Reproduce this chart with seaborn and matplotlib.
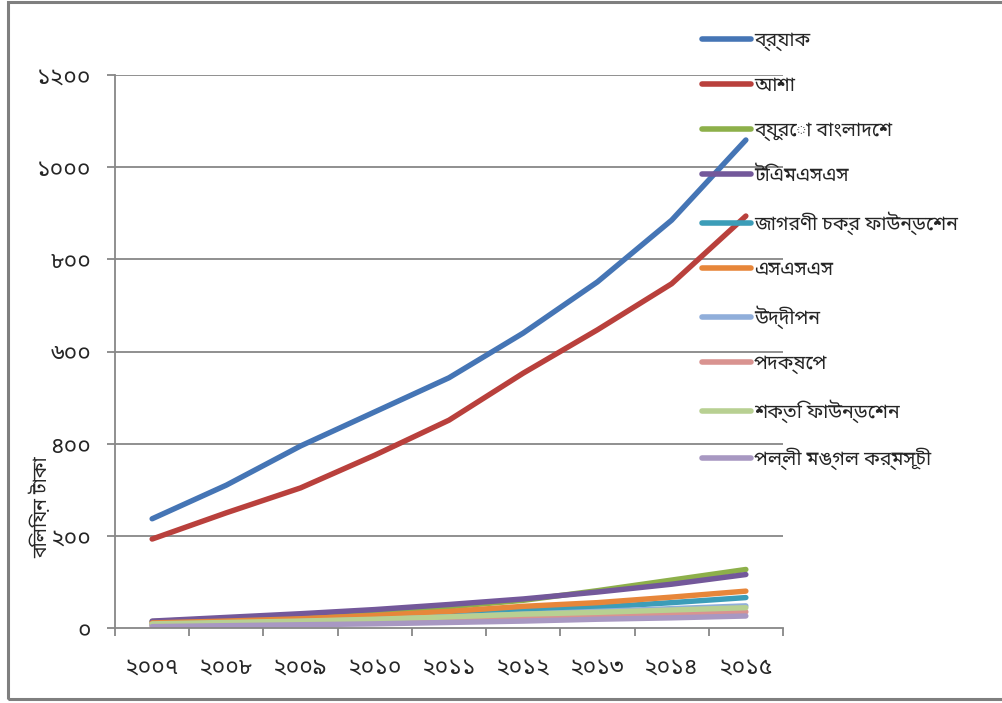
import matplotlib
matplotlib.use("Agg")
import seaborn as sns
import matplotlib.pyplot as plt
import pandas as pd
from matplotlib.patches import Rectangle

# data (billion taka)
years = [2007, 2008, 2009, 2010, 2011, 2012, 2013, 2014, 2015]
year_labels = ["২০০৭", "২০০৮", "২০০৯", "২০১০", "২০১১", "২০১২", "২০১৩", "২০১৪", "২০১৫"]
y_ticks = [0, 200, 400, 600, 800, 1000, 1200]
y_tick_labels = ["০", "২০০", "৪০০", "৬০০", "৮০০", "১০০০", "১২০০"]

names = ["ব্র্যাক", "আশা", "ব্যুরো বাংলাদেশ", "টিএমএসএস", "জাগরণী চক্র ফাউন্ডেশন",
         "এসএসএস", "উদ্দীপন", "পদক্ষেপ", "শক্তি ফাউন্ডেশন", "পল্লী মঙ্গল কর্মসূচী"]
brac = [237, 310, 395, 469, 543, 640, 751, 885, 1059]
asa = [193, 250, 304, 375, 451, 553, 647, 747, 894]
buro = [14, 21, 28, 36, 46, 60, 81, 104, 127]
tmss = [15, 23, 31, 40, 51, 63, 78, 95, 116]
jagorani = [8, 12, 16, 22, 30, 38, 45, 55, 66]
sss = [11, 15, 20, 27, 36, 47, 55, 67, 80]
uddipan = [7, 10, 14, 18, 24, 30, 36, 42, 48]
padakhep = [5, 8, 10, 13, 17, 21, 26, 30, 35]
shakti = [9, 12, 15, 19, 24, 30, 34, 39, 44]
palli = [3, 5, 7, 9, 12, 15, 19, 22, 26]
series = [brac, asa, buro, tmss, jagorani, sss, uddipan, padakhep, shakti, palli]

colors = ["#4575B5", "#B9403C", "#8DB04A", "#73589A", "#3C9DB8",
          "#E7863A", "#90AEDA", "#D99390", "#B8D092", "#A898C2"]

rows = []
for name, vals in zip(names, series):
    for yr, v in zip(years, vals):
        rows.append({"org": name, "year": yr, "value": v})
df = pd.DataFrame(rows)

sns.set_theme(style="white")
plt.rcParams["font.family"] = ["Noto Sans Bengali", "Lohit Bengali", "Vrinda", "DejaVu Sans"]

fig = plt.figure(figsize=(10.02, 7.03), dpi=100)
ax = fig.add_axes([0.1148, 0.1067, 0.6666, 0.7866])

grid_c = "#878787"
for t in y_ticks[1:]:
    ax.axhline(t, color=grid_c, lw=1.3, zorder=0)

sns.lineplot(data=df, x="year", y="value", hue="org", hue_order=names,
             palette=dict(zip(names, colors)), linewidth=3.9, ax=ax,
             legend=True, solid_capstyle="round")

ax.set_xlim(2006.5, 2015.5)
ax.set_ylim(0, 1200)
ax.set_xlabel("")
ax.set_ylabel("")

# x axis: ticks between categories, labels at centres
ax.set_xticks([y - 0.5 for y in years] + [2015.5])
ax.set_xticklabels([])
ax.set_xticks(years, minor=True)
ax.set_xticklabels(year_labels, minor=True, fontsize=16.5)
ax.tick_params(axis="x", which="major", direction="out", length=6, width=1.3, color=grid_c, bottom=True)
ax.tick_params(axis="x", which="minor", length=0, pad=20)

ax.set_yticks(y_ticks)
ax.set_yticklabels(y_tick_labels, fontsize=16.5)
ax.tick_params(axis="y", direction="out", length=6, width=1.3, color=grid_c, left=True, pad=11)

sns.despine(ax=ax)
for s in ["left", "bottom"]:
    ax.spines[s].set_color(grid_c)
    ax.spines[s].set_linewidth(1.3)

handles, labels = ax.get_legend_handles_labels()
ax.get_legend().remove()
for h in handles:
    h.set_linewidth(4)
    h.set_solid_capstyle("round")
fig.legend(handles, labels, loc="upper left", bbox_to_anchor=(0.701, 0.9565),
           frameon=False, fontsize=14, handlelength=2.5, handletextpad=0.15,
           labelspacing=1.29, borderpad=0, borderaxespad=0)

fig.text(0.041, 1 - 507 / 703, "বিলিয়ন টাকা", rotation=90, fontsize=14,
         ha="center", va="center")

# outer frame
fig.patches.append(Rectangle((8 / 1002, 1 - 699 / 703), 1.0, 697 / 703,
                             transform=fig.transFigure, fill=False,
                             edgecolor="#7F7F7F", lw=2.2))

plt.savefig("out.png", dpi=100)
